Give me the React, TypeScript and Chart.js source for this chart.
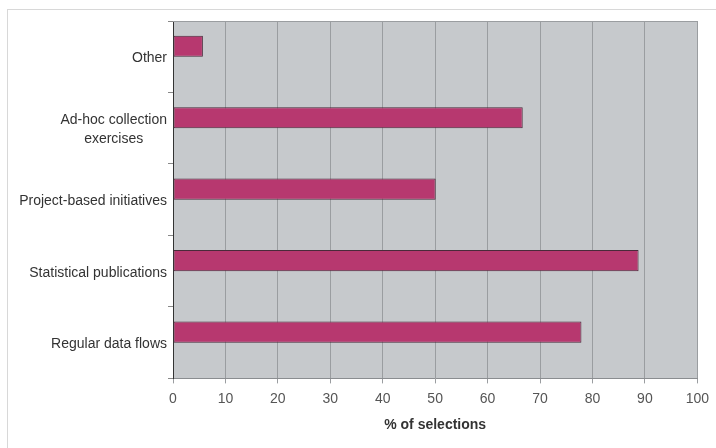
import React, { useEffect, useRef } from "react";
import { Chart, registerables } from "chart.js";

Chart.register(...registerables);

const categories: (string | string[])[] = [
  "Other",
  ["Ad-hoc collection", "exercises"],
  "Project-based initiatives",
  "Statistical publications",
  "Regular data flows",
];
const values: number[] = [5.7, 66.7, 50.1, 88.8, 77.9];
const emptySeries: (number | null)[] = [null, null, null, null, null];
const xTicks: number[] = [0, 10, 20, 30, 40, 50, 60, 70, 80, 90, 100];
const xTitle = "% of selections";

const FONT = "'Liberation Sans', Arial, sans-serif";

const plotBg = {
  id: "plotBg",
  beforeDraw(chart: any) {
    const { ctx, chartArea } = chart;
    ctx.save();
    ctx.fillStyle = "#C6C9CC";
    ctx.fillRect(chartArea.left, chartArea.top, chartArea.right - chartArea.left, chartArea.bottom - chartArea.top);
    ctx.restore();
  },
  afterDatasetsDraw(chart: any) {
    const { ctx, chartArea } = chart;
    ctx.save();
    ctx.strokeStyle = "#9a9da0";
    ctx.lineWidth = 1;
    ctx.beginPath();
    ctx.moveTo(chartArea.left, chartArea.top + 0.5);
    ctx.lineTo(chartArea.right, chartArea.top + 0.5);
    ctx.stroke();
    ctx.restore();
  },
  afterDraw(chart: any) {
    const { ctx } = chart;
    const y = chart.scales.y;
    const right = y.right - 6;
    const lh = 19;
    ctx.save();
    ctx.font = `14px ${FONT}`;
    ctx.fillStyle = "#333";
    ctx.textBaseline = "middle";
    ctx.textAlign = "center";
    categories.forEach((lab, i) => {
      const lines = Array.isArray(lab) ? lab : [lab];
      const maxW = Math.max(...lines.map((l) => ctx.measureText(l).width));
      const cx = right - maxW / 2;
      const cy = y.getPixelForTick(i) + 1.5;
      const start = cy - ((lines.length - 1) * lh) / 2;
      lines.forEach((l, j) => ctx.fillText(l, cx, start + j * lh));
    });
    ctx.restore();
  },
};

export default function App() {
  const ref = useRef<HTMLCanvasElement>(null);
  useEffect(() => {
    document.body.style.margin = "0";
    const chart = new Chart(ref.current!, {
      type: "bar",
      data: {
        labels: categories as any,
        datasets: [
          {
            data: values,
            backgroundColor: "#B7386F",
            borderColor: "#4a2a3a",
            borderWidth: 1,
            borderSkipped: false,
            categoryPercentage: 0.59,
            barPercentage: 1,
          },
          {
            data: emptySeries as any,
            backgroundColor: "transparent",
            categoryPercentage: 0.59,
            barPercentage: 1,
          },
        ],
      },
      options: {
        indexAxis: "y",
        responsive: false,
        animation: false,
        layout: { padding: { left: 0, right: 17, top: 21, bottom: 14 } },
        plugins: { legend: { display: false }, tooltip: { enabled: false } },
        scales: {
          x: {
            min: 0,
            max: 100,
            afterBuildTicks: (s: any) => {
              s.ticks = xTicks.map((v) => ({ value: v }));
            },
            grid: { color: "#9a9da0", tickLength: 5, drawTicks: true },
            border: { color: "#8a8d90", width: 1 },
            ticks: { color: "#555", font: { family: FONT, size: 14 }, padding: 7 },
            title: {
              display: true,
              text: xTitle,
              color: "#333",
              font: { family: FONT, size: 14, weight: "bold" },
              padding: { top: 3, bottom: 0 },
            },
          },
          y: {
            afterFit: (s: any) => {
              s.width = 173;
            },
            grid: { offset: true, drawOnChartArea: false, color: "#888", tickLength: 5 },
            border: { color: "#333", width: 1 },
            ticks: { display: false },
          },
        },
      },
      plugins: [plotBg],
    });
    return () => chart.destroy();
  }, []);
  return (
    <div style={{ position: "fixed", left: 0, top: 0, width: 716, height: 448, background: "#fff" }}>
      <div
        style={{
          position: "absolute",
          left: 7,
          top: 9,
          right: 0,
          bottom: 0,
          borderTop: "1px solid #d8d8d8",
          borderLeft: "1px solid #d8d8d8",
        }}
      />
      <canvas ref={ref} width={716} height={448} style={{ position: "absolute", left: 0, top: 0 }} />
    </div>
  );
}
